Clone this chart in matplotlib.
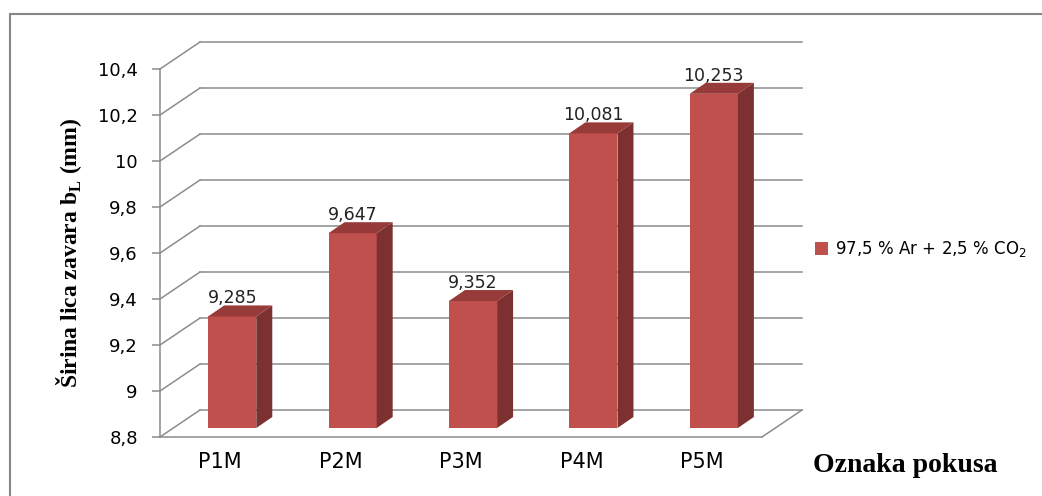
import matplotlib
matplotlib.use("Agg")
import matplotlib.pyplot as plt
from matplotlib.patches import Polygon, Rectangle
from matplotlib.ticker import FuncFormatter

# data
categories = ["P1M", "P2M", "P3M", "P4M", "P5M"]
values = [9.285, 9.647, 9.352, 10.081, 10.253]
series_name = "97,5 % Ar + 2,5 % CO$_\\mathregular{2}$"
y_ticks = [8.8, 9.0, 9.2, 9.4, 9.6, 9.8, 10.0, 10.2, 10.4]

front = "#C0504D"
side = "#7C3130"
top = "#963B39"
grid = "#8C8C8C"
sans = "DejaVu Sans"
serif = "Liberation Serif"

W, H = 1042, 496
fig = plt.figure(figsize=(W / 100, H / 100), dpi=100)
ax = fig.add_axes([160 / W, 59 / H, 602 / W, 368 / H])
ax.set_xlim(-0.5, len(categories) - 0.5)
ax.set_ylim(8.8, 10.4)

# pixel -> data unit conversion for the fake 3d depth
sx = (len(categories)) / 602.0
sy = 1.6 / 368.0
wall_dx, wall_dy = 40 * sx, 27 * sy      # back wall offset
bar_dx, bar_dy = 12 * sx, 9 * sy         # bar front plane offset
dep_dx, dep_dy = 16 * sx, 11 * sy        # bar depth

x0, x1 = -0.5, len(categories) - 0.5
for t in y_ticks:
    ax.plot([x0 + wall_dx, x1 + wall_dx], [t + wall_dy] * 2, color=grid, lw=1.1,
            clip_on=False, zorder=1)
    ax.plot([x0, x0 + wall_dx], [t, t + wall_dy], color=grid, lw=1.1,
            clip_on=False, zorder=1)
ax.plot([x1, x1 + wall_dx], [8.8, 8.8 + wall_dy], color=grid, lw=1.1,
        clip_on=False, zorder=1)

bw = 0.4
for i, v in enumerate(values):
    l = i - bw / 2 + bar_dx
    r = i + bw / 2 + bar_dx
    b = 8.8 + bar_dy
    t = v + bar_dy
    ax.add_patch(Rectangle((l, b), bw, t - b, facecolor=front, edgecolor="none",
                           clip_on=False, zorder=3))
    ax.add_patch(Polygon([(r, b), (r + dep_dx, b + dep_dy), (r + dep_dx, t + dep_dy), (r, t)],
                         closed=True, facecolor=side, edgecolor="none",
                         clip_on=False, zorder=3))
    ax.add_patch(Polygon([(l, t), (r, t), (r + dep_dx, t + dep_dy), (l + dep_dx, t + dep_dy)],
                         closed=True, facecolor=top, edgecolor="none",
                         clip_on=False, zorder=3))
    ax.annotate(f"{v:.3f}".replace(".", ","), xy=(i + bar_dx, t),
                xytext=(0, 18), textcoords="offset pixels", ha="center", va="center",
                fontsize=12.5, family=sans, color="#222222", zorder=4)

ax.set_xticks(range(len(categories)))
ax.set_xticklabels(categories, fontsize=15, family=sans)
ax.set_yticks(y_ticks)
ax.yaxis.set_major_formatter(FuncFormatter(lambda v, p: f"{v:g}".replace(".", ",")))
for lab in ax.get_yticklabels():
    lab.set_family(sans)
ax.tick_params(axis="y", direction="out", length=6, width=1.1, color=grid,
               labelsize=13, pad=10)
ax.tick_params(axis="x", length=0, pad=11)
for s in ["top", "right"]:
    ax.spines[s].set_visible(False)
for s in ["left", "bottom"]:
    ax.spines[s].set_color(grid)
    ax.spines[s].set_linewidth(1.1)
ax.set_facecolor("none")

ax.set_ylabel("Širina lica zavara b$_\\mathregular{L}$ (mm)", fontsize=17,
              family=serif, fontweight="bold", labelpad=10)
fig.text(905 / W, 1 - 465 / H, "Oznaka pokusa", fontsize=20, family=serif,
         fontweight="bold", ha="center", va="center")

# legend
handle = Rectangle((0, 0), 1, 1, facecolor=front, edgecolor="none")
fig.legend([handle], [series_name], loc="center left",
           bbox_to_anchor=(800 / W, 1 - 249 / H), frameon=False,
           prop={"family": sans, "size": 12}, handlelength=0.8, handleheight=0.8,
           handletextpad=0.4)

# outer chart frame
fig.add_artist(Rectangle((10 / W, -0.1), 1.2, 1.1 - 14 / H, transform=fig.transFigure,
                         facecolor="none", edgecolor="#878787", lw=1.5))

fig.savefig("out.png", dpi=100)
